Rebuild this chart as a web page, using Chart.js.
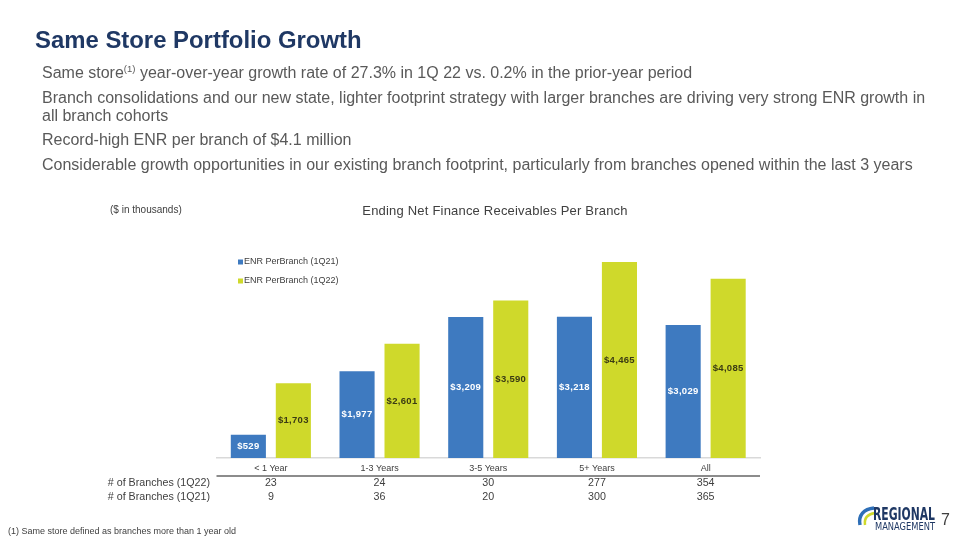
<!DOCTYPE html>
<html>
<head>
<meta charset="utf-8">
<script src="https://cdn.jsdelivr.net/npm/chart.js@4.4.1/dist/chart.umd.min.js"></script>
<style>
  html, body { margin: 0; padding: 0; background: #ffffff; }
  body { width: 960px; height: 540px; position: relative; overflow: hidden; font-family: Arial, "Liberation Sans", sans-serif; }
  #chartWrap { position: absolute; left: 0; top: 0; width: 960px; height: 540px; }
  h1 { position: absolute; left: 35px; top: 26px; margin: 0; font-size: 23.9px; font-weight: bold; color: #1F3864; }
  .bul { position: absolute; left: 42px; width: 895px; font-size: 16px; color: #595959; line-height: 18px; margin: 0; }
  .bul sup { font-size: 9.5px; vertical-align: 6px; line-height: 0; }
  #ctitle { position: absolute; left: 300px; width: 390px; text-align: center; top: 203px; font-size: 13px; color: #404040; letter-spacing: 0.2px; }
  #units { position: absolute; left: 110px; top: 204px; font-size: 10px; color: #404040; }
  #foot { position: absolute; left: 8px; top: 526px; font-size: 9px; color: #404040; }
  #pnum { position: absolute; left: 941px; top: 511px; font-size: 16px; color: #404040; }
  #logo { position: absolute; left: 855px; top: 503px; width: 84px; height: 30px; }
</style>
</head>
<body>
<div id="chartWrap"><canvas id="c" width="960" height="540"></canvas></div>
<h1>Same Store Portfolio Growth</h1>
<p class="bul" style="top:64px">Same store<sup>(1)</sup> year-over-year growth rate of 27.3% in 1Q 22 vs. 0.2% in the prior-year period</p>
<p class="bul" style="top:89px">Branch consolidations and our new state, lighter footprint strategy with larger branches are driving very strong ENR growth in all branch cohorts</p>
<p class="bul" style="top:131px">Record-high ENR per branch of $4.1 million</p>
<p class="bul" style="top:156px">Considerable growth opportunities in our existing branch footprint, particularly from branches opened within the last 3 years</p>
<div id="units">($ in thousands)</div>
<div id="ctitle">Ending Net Finance Receivables Per Branch</div>
<div id="foot">(1) Same store defined as branches more than 1 year old</div>
<svg id="logo" viewBox="0 0 84 30">
  <path d="M19 5 C9 6 3 12 5 22" stroke="#2E6FB7" stroke-width="3.5" fill="none"/>
  <path d="M20 10 C13 11 9 15 10 22" stroke="#CFD92B" stroke-width="2.5" fill="none"/>
  <text x="18" y="17" font-family="Liberation Sans Narrow, DejaVu Sans Condensed, Arial" font-weight="bold" font-size="17" fill="#1F3864" textLength="62" lengthAdjust="spacingAndGlyphs">REGIONAL</text>
  <text x="20" y="27" font-family="Liberation Sans Narrow, DejaVu Sans Condensed, Arial" font-size="10.5" fill="#1F3864" textLength="60" lengthAdjust="spacingAndGlyphs">MANAGEMENT</text>
</svg>
<div id="pnum">7</div>
<script>
const categories = ['< 1 Year', '1-3 Years', '3-5 Years', '5+ Years', 'All'];
const seriesNames = ['ENR PerBranch (1Q21)', 'ENR PerBranch (1Q22)'];
const enr1Q21 = [529, 1977, 3209, 3218, 3029];
const enr1Q22 = [1703, 2601, 3590, 4465, 4085];
const tableRowLabels = ['# of Branches (1Q22)', '# of Branches (1Q21)'];
const branches1Q22 = [23, 24, 30, 277, 354];
const branches1Q21 = [9, 36, 20, 300, 365];

const BLUE = '#3E7AC0';
const GREEN = '#CFD92B';

const fmt = v => '$' + v.toLocaleString('en-US');

const valueLabels = {
  id: 'valueLabels',
  afterDatasetsDraw(chart) {
    const ctx = chart.ctx;
    ctx.save();
    ctx.font = 'bold 9.5px Arial, "Liberation Sans", sans-serif';
    try { ctx.letterSpacing = '0.3px'; } catch (e) {}
    ctx.textAlign = 'center';
    ctx.textBaseline = 'middle';
    chart.data.datasets.forEach((ds, di) => {
      const meta = chart.getDatasetMeta(di);
      ctx.fillStyle = di === 0 ? '#ffffff' : '#3b3b14';
      meta.data.forEach((bar, i) => {
        const y = (bar.y + bar.base) / 2;
        ctx.fillText(fmt(ds.data[i]), bar.x, y);
      });
    });
    ctx.restore();
  }
};

const legendAndTable = {
  id: 'legendAndTable',
  afterDraw(chart) {
    const ctx = chart.ctx;
    const a = chart.chartArea;
    const xs = chart.scales.x;
    ctx.save();
    // legend
    ctx.font = '9px Arial, "Liberation Sans", sans-serif';
    ctx.textBaseline = 'middle';
    ctx.textAlign = 'left';
    chart.data.datasets.forEach((ds, i) => {
      const y = a.top + 23.5 + i * 19;
      ctx.fillStyle = ds.backgroundColor;
      ctx.fillRect(a.left + 21.5, y - 2.5, 5, 5);
      ctx.fillStyle = '#404040';
      ctx.fillText(ds.label, a.left + 27.5, y);
    });
    // table divider
    ctx.strokeStyle = '#8c8c8c';
    ctx.lineWidth = 2;
    ctx.beginPath();
    ctx.moveTo(a.left, a.bottom + 18);
    ctx.lineTo(a.right, a.bottom + 18);
    ctx.stroke();
    // table rows
    ctx.font = '10.7px Arial, "Liberation Sans", sans-serif';
    ctx.fillStyle = '#404040';
    const rows = [branches1Q22, branches1Q21];
    rows.forEach((row, r) => {
      const y = a.bottom + 25 + r * 14.5;
      ctx.textAlign = 'right';
      ctx.fillText(tableRowLabels[r], 210, y);
      ctx.textAlign = 'center';
      row.forEach((v, i) => ctx.fillText(String(v), xs.getPixelForValue(i), y));
    });
    ctx.restore();
  }
};

new Chart(document.getElementById('c'), {
  type: 'bar',
  data: {
    labels: categories,
    datasets: [
      { label: seriesNames[0], data: enr1Q21, backgroundColor: BLUE, categoryPercentage: 0.828, barPercentage: 0.78 },
      { label: seriesNames[1], data: enr1Q22, backgroundColor: GREEN, categoryPercentage: 0.828, barPercentage: 0.78 }
    ]
  },
  options: {
    responsive: false,
    animation: false,
    layout: { padding: { left: 216.5, right: 200, top: 238.5, bottom: 62 } },
    plugins: { legend: { display: false }, title: { display: false }, tooltip: { enabled: false } },
    scales: {
      x: {
        grid: { display: false, drawTicks: false },
        border: { display: true, color: '#d9d9d9', width: 1.5 },
        ticks: { color: '#404040', font: { family: 'Arial, "Liberation Sans", sans-serif', size: 9 }, padding: 5, maxRotation: 0 },
        afterFit(scale) { scale.height = 20; }
      },
      y: { display: false, min: 0, max: 5000 }
    }
  },
  plugins: [valueLabels, legendAndTable]
});
</script>
</body>
</html>
